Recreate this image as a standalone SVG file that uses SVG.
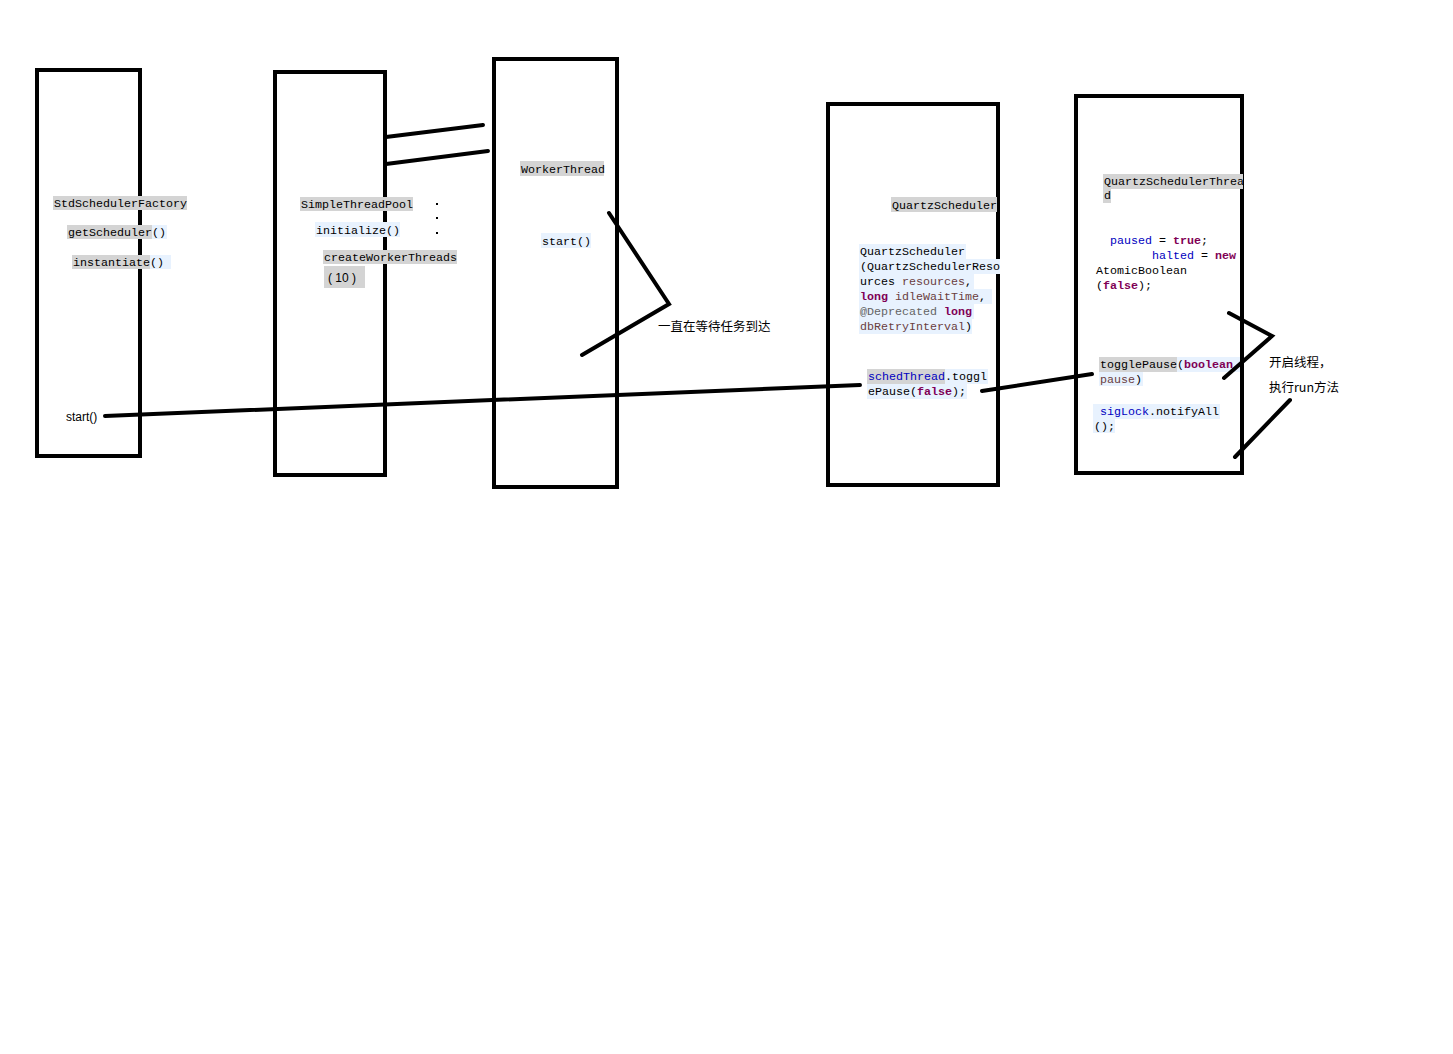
<svg xmlns="http://www.w3.org/2000/svg" width="1453" height="1054" viewBox="0 0 1453 1054">
<style>
.box{fill:none;stroke:#000;stroke-width:4}
.ln{fill:none;stroke:#000;stroke-width:4;stroke-linecap:round;stroke-linejoin:miter}
.m{font-family:"Liberation Mono","DejaVu Sans Mono",monospace;font-size:11.67px;fill:#000}
.s{font-family:"Liberation Sans","Noto Sans CJK SC",sans-serif;font-size:12px;fill:#000}
.c{font-family:"Noto Sans CJK SC","Liberation Sans",sans-serif;font-size:12.5px;fill:#000}
.g{fill:#d4d4d4}
.b{fill:#e8f2fe}
.kw{fill:#7f0055;font-weight:bold}
.fd{fill:#0000c0}
.vr{fill:#6a3e3e}
.an{fill:#646464}
</style>
<rect width="1453" height="1054" fill="#fff"/>

<g id="node-stdschedulerfactory">
<rect x="37" y="70" width="103" height="386" class="box"/>
<rect x="53" y="196" width="134" height="14" class="g"/>
<text x="54" y="207" class="m">StdSchedulerFactory</text>
<rect x="67" y="225" width="85" height="14" class="g"/>
<rect x="152" y="225" width="15" height="14" class="b"/>
<text x="68" y="236" class="m">getScheduler()</text>
<rect x="72" y="255" width="78" height="14" class="g"/>
<rect x="150" y="255" width="21" height="14" class="b"/>
<text x="73" y="266" class="m">instantiate()</text>
<text x="66" y="421" class="s">start()</text>
</g>

<g id="node-simplethreadpool">
<rect x="275" y="72" width="110" height="403" class="box"/>
<rect x="300" y="197" width="113" height="14" class="g"/>
<text x="301" y="208" class="m">SimpleThreadPool</text>
<rect x="315" y="222" width="85" height="15" class="b"/>
<text x="316" y="234" class="m">initialize()</text>
<rect x="323" y="250" width="134" height="14" class="g"/>
<text x="324" y="261" class="m">createWorkerThreads</text>
<rect x="324" y="266" width="41" height="22" class="g"/>
<text x="328" y="282" class="s" font-size="13">( 10 )</text>
<rect x="436" y="203" width="2" height="2" fill="#000"/>
<rect x="436" y="217" width="2" height="2" fill="#000"/>
<rect x="436" y="232" width="2" height="2" fill="#000"/>
</g>

<g id="node-workerthread">
<rect x="494" y="59" width="123" height="428" class="box"/>
<rect x="520" y="161" width="84" height="15" class="g"/>
<text x="521" y="173" class="m">WorkerThread</text>
<rect x="541" y="233" width="50" height="15" class="b"/>
<text x="542" y="245" class="m">start()</text>
</g>

<g id="node-quartzscheduler">
<rect x="828" y="104" width="170" height="381" class="box"/>
<rect x="891" y="197" width="106" height="15" class="g"/>
<text x="892" y="209" class="m">QuartzScheduler</text>
<rect x="859" y="244" width="107" height="15" class="b"/>
<rect x="859" y="259" width="141" height="15" class="b"/>
<rect x="859" y="274" width="115" height="15" class="b"/>
<rect x="859" y="289" width="133" height="15" class="b"/>
<rect x="859" y="304" width="115" height="15" class="b"/>
<rect x="859" y="319" width="113" height="15" class="b"/>
<text class="m"><tspan x="860" y="255">QuartzScheduler</tspan><tspan x="860" y="270">(QuartzSchedulerReso</tspan><tspan x="860" y="285">urces <tspan class="vr">resources</tspan>,</tspan><tspan x="860" y="300"><tspan class="kw">long</tspan> <tspan class="vr">idleWaitTime</tspan>,</tspan><tspan x="860" y="315"><tspan class="an">@Deprecated</tspan> <tspan class="kw">long</tspan></tspan><tspan x="860" y="330"><tspan class="vr">dbRetryInterval</tspan>)</tspan></text>
<rect x="867" y="369" width="121" height="15" class="b"/>
<rect x="867" y="369" width="78" height="15" class="g"/>
<rect x="867" y="384" width="100" height="15" class="b"/>
<text class="m"><tspan x="868" y="380"><tspan class="fd">schedThread</tspan>.toggl</tspan><tspan x="868" y="395">ePause(<tspan class="kw">false</tspan>);</tspan></text>
</g>

<g id="node-quartzschedulerthread">
<rect x="1076" y="96" width="166" height="377" class="box"/>
<rect x="1103" y="174" width="140" height="15" class="g"/>
<rect x="1103" y="189" width="8" height="14" class="g"/>
<text class="m"><tspan x="1104" y="185">QuartzSchedulerThrea</tspan><tspan x="1104" y="199">d</tspan></text>
<text class="m"><tspan x="1110" y="244"><tspan class="fd">paused</tspan> = <tspan class="kw">true</tspan>;</tspan><tspan x="1152" y="259"><tspan class="fd">halted</tspan> = <tspan class="kw">new</tspan></tspan><tspan x="1096" y="274">AtomicBoolean</tspan><tspan x="1096" y="289">(<tspan class="kw">false</tspan>);</tspan></text>
<rect x="1099" y="357" width="141" height="15" class="b"/>
<rect x="1099" y="357" width="78" height="15" class="g"/>
<rect x="1099" y="372" width="44" height="14" class="b"/>
<text class="m"><tspan x="1100" y="368">togglePause(<tspan class="kw">boolean</tspan></tspan><tspan x="1100" y="383"><tspan class="vr">pause</tspan>)</tspan></text>
<rect x="1093" y="404" width="127" height="15" class="b"/>
<rect x="1093" y="419" width="22" height="14" class="b"/>
<text class="m"><tspan x="1100" y="415"><tspan class="fd">sigLock</tspan>.notifyAll</tspan><tspan x="1094" y="430">();</tspan></text>
</g>

<g id="connectors">
<line x1="386" y1="137" x2="483" y2="125" class="ln"/>
<line x1="386" y1="164" x2="488" y2="151" class="ln"/>
<line x1="105" y1="416" x2="860" y2="385" class="ln"/>
<line x1="982" y1="391" x2="1092" y2="374" class="ln"/>
<polyline points="609,213 669,304 582,355" class="ln"/>
<polyline points="1229,313 1272,336 1224,378" class="ln"/>
<line x1="1290" y1="400" x2="1235" y2="457" class="ln"/>
</g>

<g id="labels">
<text x="658" y="331" class="c">一直在等待任务到达</text>
<text x="1269" y="367" class="c">开启线程，</text>
<text x="1269" y="392" class="c">执行run方法</text>
</g>
</svg>
